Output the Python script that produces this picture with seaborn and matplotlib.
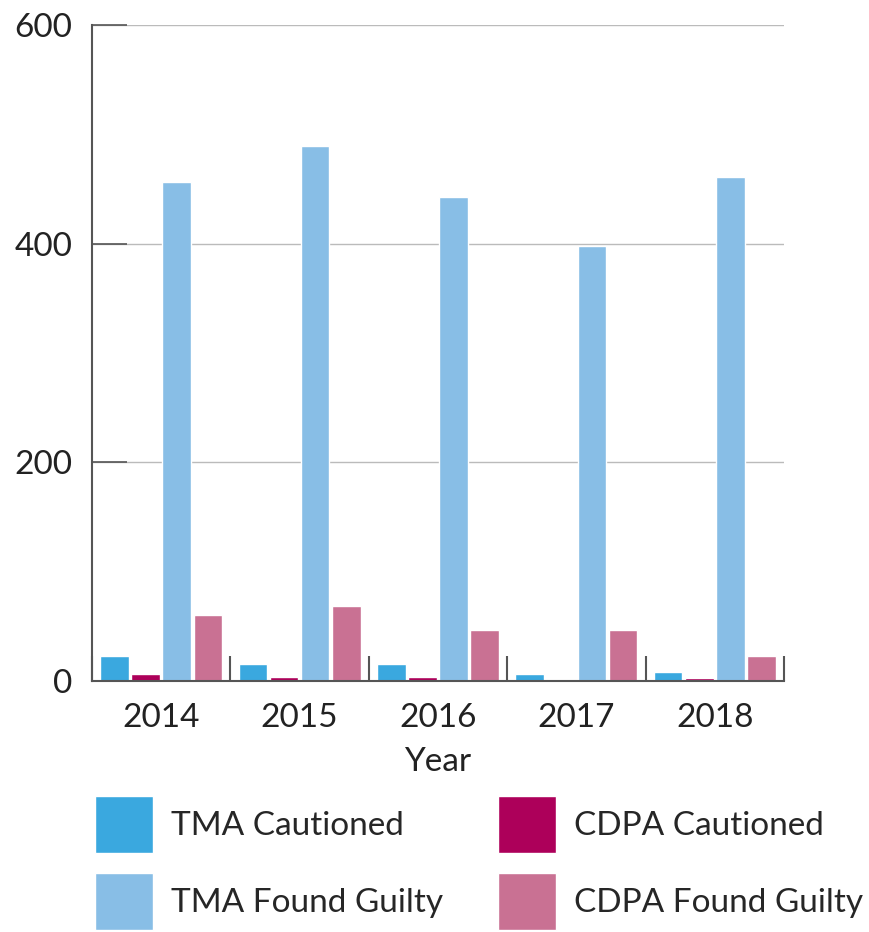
import pandas as pd
import seaborn as sns
import matplotlib.pyplot as plt
from matplotlib.patches import Patch
from matplotlib.ticker import FixedLocator

# chart values
years = ['2014', '2015', '2016', '2017', '2018']
series_names = ['TMA Cautioned', 'CDPA Cautioned', 'TMA Found Guilty', 'CDPA Found Guilty']
tma_cautioned = [23, 16, 16, 6, 8]
cdpa_cautioned = [6, 4, 4, 1, 3]
tma_guilty = [456, 489, 443, 398, 461]
cdpa_guilty = [60, 69, 47, 47, 23]
colors = ['#3AA8DF', '#AD005A', '#88BEE6', '#C97193']

rows = []
for name, vals in zip(series_names, [tma_cautioned, cdpa_cautioned, tma_guilty, cdpa_guilty]):
    for y, v in zip(years, vals):
        rows.append({'Year': y, 'Series': name, 'Count': v})
df = pd.DataFrame(rows)

sns.set_style('white')
plt.rcParams['font.family'] = ['Lato', 'DejaVu Sans']

fig = plt.figure(figsize=(8.7, 9.32), dpi=100)
ax = fig.add_axes([0.1057, 0.2693, 0.7954, 0.7039])

sns.barplot(data=df, x='Year', y='Count', hue='Series', hue_order=series_names,
            palette=colors, width=0.9, gap=0.08, saturation=1, ax=ax, legend=False)

ax.set_ylim(0, 600)
ax.set_xlim(-0.5, 4.5)
ax.set_yticks([0, 200, 400, 600])
ax.yaxis.grid(True, color='#bbbbbb', linewidth=1)
ax.set_axisbelow(True)
ax.tick_params(axis='y', left=True, direction='in', length=25, width=1.2, color='#555555',
               labelsize=24, pad=14, labelcolor='#222222')
ax.tick_params(axis='x', which='major', bottom=True, length=0, labelsize=24, pad=16,
               labelcolor='#222222')
ax.xaxis.set_minor_locator(FixedLocator([-0.5, 0.5, 1.5, 2.5, 3.5, 4.5]))
ax.tick_params(axis='x', which='minor', bottom=True, direction='in', length=18, width=1.5,
               color='#555555')

for s in ['top', 'right']:
    ax.spines[s].set_visible(False)
for s in ['left', 'bottom']:
    ax.spines[s].set_color('#555555')
    ax.spines[s].set_linewidth(1.5)

ax.set_xlabel('Year', fontsize=24, color='#222222', labelpad=10)
ax.set_ylabel('')

# legend ordered column-wise like the reference
order = [0, 2, 1, 3]
handles = [Patch(facecolor=colors[i], label=series_names[i]) for i in order]
fig.legend(handles=handles, loc='lower left', bbox_to_anchor=(0.109, 0.002), ncol=2,
           frameon=False, fontsize=24, handlelength=1.74, handleheight=2.25,
           handletextpad=0.54, columnspacing=1.65, labelspacing=0.61,
           borderpad=0, borderaxespad=0)

fig.savefig('out.png', dpi=100)
